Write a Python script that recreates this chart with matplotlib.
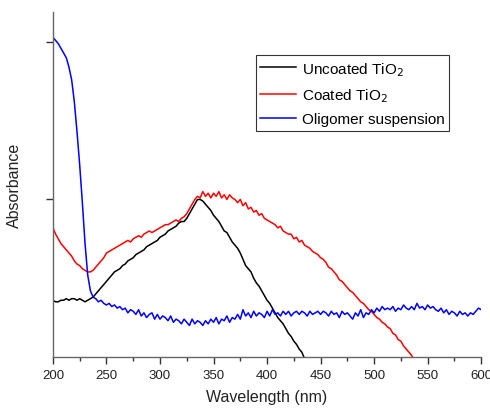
import matplotlib
matplotlib.use("Agg")
import matplotlib.pyplot as plt
from matplotlib.ticker import MultipleLocator

plt.rcParams['font.family'] = ['Liberation Sans', 'DejaVu Sans']

wl = [200 + 2.5 * i for i in range(161)]

blue = [2.03, 2.01, 1.99, 1.96, 1.93, 1.90, 1.84, 1.76, 1.62, 1.43,
        1.22, 0.98, 0.72, 0.52, 0.42, 0.38, 0.37, 0.35, 0.36, 0.34,
        0.33, 0.34, 0.32, 0.33, 0.31, 0.32, 0.30, 0.31, 0.28, 0.30,
        0.29, 0.27, 0.30, 0.26, 0.28, 0.25, 0.27, 0.28, 0.24, 0.27,
        0.24, 0.26, 0.25, 0.23, 0.26, 0.22, 0.24, 0.23, 0.21, 0.24,
        0.22, 0.20, 0.24, 0.21, 0.23, 0.22, 0.20, 0.23, 0.21, 0.24,
        0.22, 0.25, 0.21, 0.24, 0.23, 0.26, 0.22, 0.25, 0.24, 0.27,
        0.24, 0.30, 0.26, 0.28, 0.25, 0.29, 0.26, 0.28, 0.27, 0.25,
        0.29, 0.26, 0.30, 0.27, 0.28, 0.26, 0.29, 0.27, 0.29, 0.26,
        0.28, 0.29, 0.27, 0.29, 0.28, 0.26, 0.29, 0.27, 0.28, 0.29,
        0.27, 0.29, 0.28, 0.26, 0.29, 0.27, 0.28, 0.25, 0.29, 0.27,
        0.28, 0.26, 0.24, 0.28, 0.26, 0.30, 0.25, 0.28, 0.27, 0.30,
        0.28, 0.31, 0.29, 0.32, 0.30, 0.31, 0.30, 0.32, 0.29, 0.31,
        0.30, 0.33, 0.31, 0.30, 0.32, 0.30, 0.34, 0.31, 0.32, 0.30,
        0.33, 0.31, 0.32, 0.30, 0.29, 0.31, 0.28, 0.30, 0.27, 0.29,
        0.28, 0.26, 0.29, 0.27, 0.28, 0.26, 0.28, 0.27, 0.29, 0.31,
        0.30]

black = [0.36, 0.35, 0.35, 0.36, 0.36, 0.37, 0.36, 0.37, 0.37, 0.36,
         0.37, 0.36, 0.35, 0.36, 0.37, 0.38, 0.40, 0.42, 0.44, 0.46,
         0.48, 0.50, 0.52, 0.54, 0.55, 0.56, 0.58, 0.59, 0.61, 0.62,
         0.63, 0.65, 0.66, 0.67, 0.68, 0.70, 0.71, 0.72, 0.73, 0.74,
         0.76, 0.77, 0.78, 0.80, 0.81, 0.82, 0.83, 0.85, 0.86, 0.86,
         0.88, 0.91, 0.94, 0.97, 1.00, 1.00, 0.99, 0.97, 0.95, 0.93,
         0.90, 0.88, 0.86, 0.83, 0.80, 0.79, 0.76, 0.73, 0.71, 0.69,
         0.66, 0.62, 0.58, 0.56, 0.54, 0.50, 0.47, 0.45, 0.42, 0.39,
         0.36, 0.34, 0.31, 0.28, 0.25, 0.23, 0.21, 0.18, 0.15, 0.13,
         0.10, 0.08, 0.05, 0.03, -0.01]

red = [0.82, 0.78, 0.75, 0.72, 0.70, 0.68, 0.66, 0.64, 0.61, 0.59,
       0.58, 0.56, 0.55, 0.54, 0.54, 0.55, 0.57, 0.59, 0.61, 0.63,
       0.66, 0.67, 0.68, 0.69, 0.70, 0.71, 0.72, 0.73, 0.74, 0.73,
       0.75, 0.76, 0.77, 0.76, 0.78, 0.79, 0.80, 0.79, 0.80, 0.81,
       0.82, 0.83, 0.84, 0.84, 0.85, 0.86, 0.87, 0.86, 0.88, 0.89,
       0.91, 0.94, 0.97, 1.00, 1.02, 1.01, 1.05, 1.02, 1.04, 1.01,
       1.04, 1.02, 1.05, 1.01, 1.03, 1.00, 1.03, 1.01, 1.00, 0.98,
       1.00, 0.96, 0.98, 0.94, 0.95, 0.92, 0.93, 0.90, 0.91, 0.88,
       0.87, 0.86, 0.85, 0.84, 0.82, 0.83, 0.80, 0.79, 0.78, 0.78,
       0.75, 0.76, 0.73, 0.74, 0.71, 0.70, 0.69, 0.67, 0.66, 0.65,
       0.63, 0.62, 0.60, 0.57, 0.56, 0.54, 0.52, 0.49, 0.48, 0.46,
       0.44, 0.42, 0.41, 0.39, 0.37, 0.35, 0.34, 0.32, 0.30, 0.29,
       0.27, 0.25, 0.24, 0.22, 0.21, 0.19, 0.18, 0.15, 0.14, 0.11,
       0.10, 0.07, 0.05, 0.03, 0.01, -0.02]

labels = ['Uncoated TiO$_2$', 'Coated TiO$_2$', 'Oligomer suspension']
colors = ['#000000', '#ff0000', '#0000ff']

fig = plt.figure(figsize=(4.9, 4.1), dpi=100)
ax = fig.add_axes([0.108, 0.127, 0.874, 0.841])

ax.plot(wl[:len(black)], black, color=colors[0], lw=1.1, label=labels[0])
ax.plot(wl[:len(red)], red, color=colors[1], lw=1.1, label=labels[1])
ax.plot(wl, blue, color=colors[2], lw=1.1, label=labels[2])

ax.set_xlim(200, 600)
ax.set_ylim(0, 2.19)
ax.xaxis.set_major_locator(MultipleLocator(50))
ax.xaxis.set_minor_locator(MultipleLocator(25))
ax.set_yticks([1, 2])
ax.set_yticklabels([])
for s in ['top', 'right']:
    ax.spines[s].set_visible(False)
for s in ['left', 'bottom']:
    ax.spines[s].set_color('#666666')
    ax.spines[s].set_linewidth(1.0)
ax.tick_params(axis='both', which='major', length=5, width=1, color='#333333',
               labelsize=9.5, labelcolor='#222222')
ax.tick_params(axis='x', which='minor', length=3, width=1, color='#333333')

ax.set_xlabel('Wavelength (nm)', fontsize=11.5, color='#222222', labelpad=6)
ax.set_ylabel('Absorbance', fontsize=11.5, color='#222222', labelpad=14)

leg = ax.legend(loc='upper left', bbox_to_anchor=(0.474, 0.875), fontsize=11,
                frameon=True, fancybox=False, edgecolor='#000000',
                borderpad=0.3, handlelength=2.3, handletextpad=0.4,
                labelspacing=0.55, borderaxespad=0)
leg.get_frame().set_linewidth(0.8)

fig.savefig('out.png', dpi=100, facecolor='white')
